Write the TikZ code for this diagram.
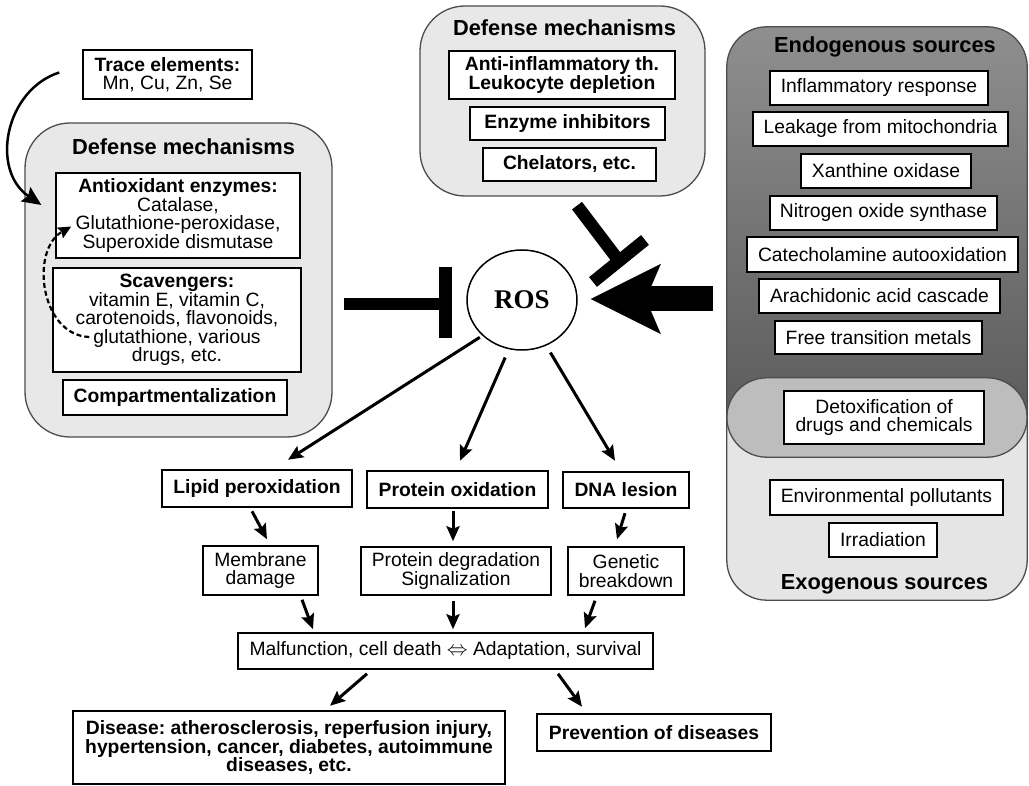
\documentclass[tikz,border=0pt]{standalone}
\usepackage{fontspec}
\setmainfont{Liberation Sans}
\newfontfamily\rosfont{Liberation Serif}
\usetikzlibrary{arrows.meta,shapes.geometric,calc}
\definecolor{defgray}{gray}{0.91}
\definecolor{exogray}{gray}{0.9}
\definecolor{ovgray}{gray}{0.74}
\definecolor{endotop}{gray}{0.56}
\definecolor{endobot}{gray}{0.34}
\lineskiplimit=-20pt
\frenchspacing
\tikzset{
  box/.style={font=\fontsize{19.3}{18.5}\selectfont, align=center, inner sep=0pt,
              draw=black, line width=1.5pt, fill=white},
  bbox/.style={box, font=\fontsize{19.3}{18.5}\selectfont\bfseries},
  kbox/.style={bbox, line width=2.5pt},
  ttl/.style={font=\fontsize{21.8}{24}\selectfont\bfseries, inner sep=0pt},
  panel/.style={draw=black!70, line width=1.3pt, fill=defgray, rounded corners=45pt, inner sep=0pt},
  arr/.style={line width=3pt, -{Stealth[length=15pt,width=13pt,inset=2.5pt]}},
  tbar/.style={line width=12.5pt},
  bigarr/.style={line width=25pt, -{Stealth[length=70pt,width=70pt,inset=15pt,line width=0.1pt]}},
}
\begin{document}
\begin{tikzpicture}[x=1pt,y=-1pt]
\useasboundingbox (0,0) rectangle (1029,786);

% ---------- sources panel ----------
\node[fill=exogray, rounded corners=40pt, minimum width=300pt, minimum height=222pt, inner sep=0pt] (exo) at (877,489) {};
\node[top color=endotop, bottom color=endobot, rounded corners=40pt, minimum width=300pt, minimum height=430pt, inner sep=0pt] (endo) at (877,242) {};
\begin{scope}
  \clip[rounded corners=40pt] (exo.north west) rectangle (exo.south east);
  \fill[ovgray, rounded corners=40pt] (endo.north west) rectangle (endo.south east);
\end{scope}
\draw[black!70, line width=1.3pt, rounded corners=40pt] (endo.north west) rectangle (endo.south east);
\draw[black!70, line width=1.3pt, rounded corners=40pt] (exo.north west) rectangle (exo.south east);

\node[ttl] (endot) at (885,47) {Endogenous sources};
\node[box, minimum width=218pt, minimum height=34pt] (infl) at (879,88) {Inflammatory response};
\node[box, minimum width=255pt, minimum height=34pt] (leak) at (880.5,129) {Leakage from mitochondria};
\node[box, minimum width=170pt, minimum height=34pt] (xan) at (886,171) {Xanthine oxidase};
\node[box, minimum width=227pt, minimum height=34pt] (nos) at (883.5,213) {Nitrogen oxide synthase};
\node[box, minimum width=271pt, minimum height=35pt] (cat) at (882.5,254.5) {Catecholamine autooxidation};
\node[box, minimum width=241pt, minimum height=34pt] (arach) at (879.5,296) {Arachidonic acid cascade};
\node[box, minimum width=207pt, minimum height=33pt] (free) at (878.5,337.5) {Free transition metals};
\node[box, minimum width=200pt, minimum height=53pt] (detox) at (884,417.5) {Detoxification of\\drugs and chemicals};
\node[box, minimum width=233pt, minimum height=35pt] (env) at (886.5,497.5) {Environmental pollutants};
\node[box, minimum width=108pt, minimum height=34pt] (irr) at (883,540) {Irradiation};
\node[ttl] (exot) at (884.5,584) {Exogenous sources};

% ---------- left defense ----------
\node[box, minimum width=169pt, minimum height=49pt] (trace) at (167.5,74.5) {\textbf{Trace elements:}\\Mn, Cu, Zn, Se};
\node[panel, minimum width=307pt, minimum height=314pt] (defL) at (178.5,280) {};
\node[ttl] (defLt) at (183.5,147) {Defense mechanisms};
\node[box, minimum width=244pt, minimum height=85pt] (antiox) at (178,215.5) {\textbf{Antioxidant enzymes:}\\Catalase,\\Glutathione-peroxidase,\\Superoxide dismutase};
\node[box, minimum width=248pt, minimum height=104pt] (scav) at (177,320) {\textbf{Scavengers:}\\vitamin E, vitamin C,\\carotenoids, flavonoids,\\glutathione, various\\drugs, etc.};
\node[bbox, minimum width=224pt, minimum height=35pt] (comp) at (175,397.5) {Compartmentalization};

% ---------- top defense ----------
\node[panel, minimum width=285pt, minimum height=190pt] (defT) at (562.5,101) {};
\node[ttl] (defTt) at (564.5,28) {Defense mechanisms};
\node[bbox, minimum width=226pt, minimum height=48pt] (antiinf) at (562,75) {Anti-inflammatory th.\\Leukocyte depletion};
\node[bbox, minimum width=195pt, minimum height=33pt] (enz) at (567.5,123.5) {Enzyme inhibitors};
\node[bbox, minimum width=173pt, minimum height=33pt] (chel) at (569.5,164.5) {Chelators, etc.};

% ---------- ROS ----------
\node[draw, ellipse, line width=1.5pt, fill=white, minimum width=110pt, minimum height=100pt, inner sep=0pt,
      font=\rosfont\fontsize{27}{30}\selectfont\bfseries] (ros) at (522,300) {ROS};

% ---------- lower chain ----------
\node[kbox, minimum width=190pt, minimum height=37pt] (lipid) at (257,488.5) {Lipid peroxidation};
\node[kbox, minimum width=181pt, minimum height=37pt] (prot) at (457.5,489.5) {Protein oxidation};
\node[kbox, minimum width=126pt, minimum height=36pt] (dna) at (626,490) {DNA lesion};
\node[box, minimum width=115pt, minimum height=49pt] (memb) at (260.5,570.5) {Membrane\\damage};
\node[box, minimum width=190pt, minimum height=48pt] (pdeg) at (456,571) {Protein degradation\\Signalization};
\node[box, minimum width=116pt, minimum height=48pt] (gen) at (626,571) {Genetic\\breakdown};
\node[box, minimum width=415pt, minimum height=36pt] (malf) at (445.5,651) {Malfunction, cell death $\Leftrightarrow$ Adaptation, survival};
\node[kbox, minimum width=432pt, minimum height=73pt] (dis) at (289,747.5) {Disease: atherosclerosis, reperfusion injury,\\hypertension, cancer, diabetes, autoimmune\\diseases, etc.};
\node[kbox, minimum width=234pt, minimum height=37pt] (prev) at (654,732.5) {Prevention of diseases};

% ---------- connectors ----------
\coordinate (tr1) at ($(trace.west)+(-23,-2)$);
\coordinate (tr2) at ($(defL.west)+(17,-75)$);
\draw[line width=2.5pt, -{Stealth[length=19pt,width=17pt,inset=3pt]}] (tr1) .. controls (5,90) and (-10,170) .. (tr2);

\coordinate (ds1) at ($(scav.west)+(37,17)$);
\coordinate (ds2) at ($(antiox.west)+(16,11)$);
\draw[line width=2.2pt, dash pattern=on 5pt off 3pt, -{Stealth[length=13pt,width=12pt,inset=2pt]}] (ds1) .. controls (40,335) and (30,250) .. (ds2);

% left inhibitor
\coordinate (lTa) at ($(defL.east |- ros)+(11,4)$);
\coordinate (lTb) at ($(ros.west)+(-21,4)$);
\draw[tbar] (lTa) -- (lTb);
\draw[tbar] ($(lTb)+(0,-37)$) -- ($(lTb)+(0,34)$);

% top inhibitor
\coordinate (tTa) at ($(defT.south)+(14.5,9)$);
\coordinate (tTb) at (619,261);
\draw[tbar] (tTa) -- (tTb);
\draw[tbar] ($(tTb)+(-26,21)$) -- ($(tTb)+(26,-21)$);

% big source arrow
\coordinate (bA) at ($(endo.west |- ros)+(-14,-1)$);
\coordinate (bB) at ($(ros.east)+(13,-1)$);
\draw[bigarr] (bA) -- (bB);

% ROS outputs
\draw[arr, shorten <=3pt] (ros.222) -- ($(lipid.north)+(31,-9)$);
\draw[arr, shorten <=9pt] (ros.255.5) -- ($(prot.north)+(2.5,-9)$);
\draw[arr, shorten <=8pt] (ros.298.3) -- ($(dna.north)+(-11,-10)$);

\draw[arr] ($(lipid.south)+(-5,3)$) -- ($(memb.north)+(6.5,-6)$);
\draw[arr] ($(prot.south)+(-4.5,2)$) -- ($(pdeg.north)+(-3,-5)$);
\draw[arr] ($(dna.south)+(-1,4)$) -- ($(gen.north)+(-9,-7)$);

\draw[arr] ($(memb.south)+(41.5,4)$) -- ($(malf.north)+(-132.5,-3)$);
\draw[arr] ($(pdeg.south)+(-3,5)$) -- ($(malf.north)+(7.5,-3)$);
\draw[arr] ($(gen.south)+(-31,5)$) -- ($(malf.north)+(139.5,-4)$);

\draw[arr] ($(malf.south)+(-78.5,4)$) -- ($(dis.north)+(41,-4)$);
\draw[arr] ($(malf.south)+(112.5,4)$) -- ($(prev.north)+(-72,-6)$);
\end{tikzpicture}
\end{document}
